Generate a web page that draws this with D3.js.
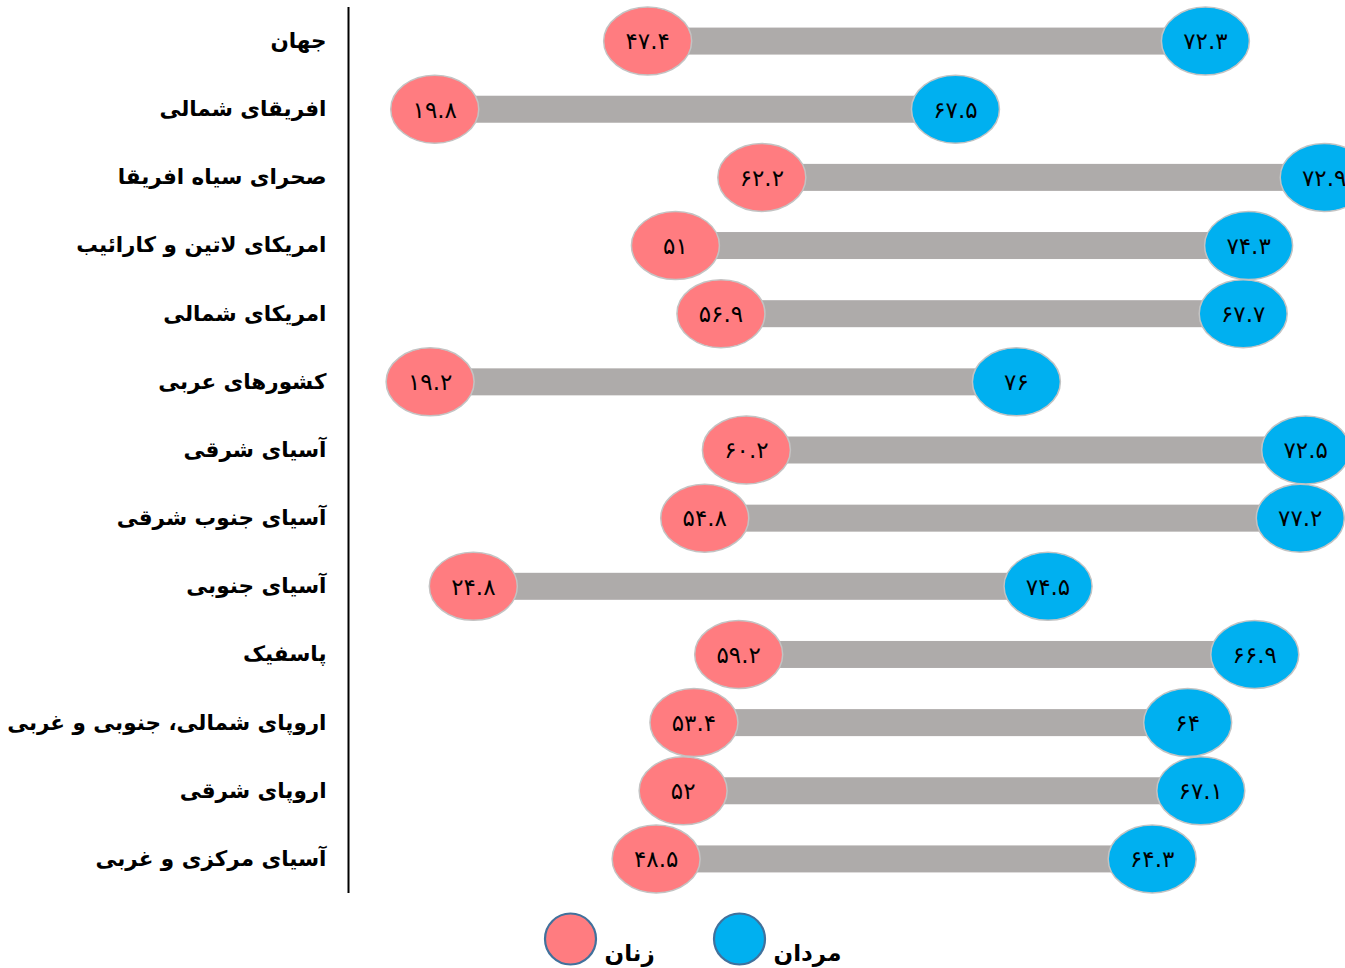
<!DOCTYPE html>
<html lang="fa">
<head>
<meta charset="utf-8">
<script src="https://cdn.jsdelivr.net/npm/d3@7"></script>
<style>
  html, body { margin: 0; padding: 0; background: #ffffff; }
  svg { display: block; }
</style>
</head>
<body>
<svg id="chart" width="1345" height="968"></svg>
<script>
// Regions, top to bottom
const categories = [
  "جهان",
  "افریقای شمالی",
  "صحرای سیاه افریقا",
  "امریکای لاتین و کارائیب",
  "امریکای شمالی",
  "کشورهای عربی",
  "آسیای شرقی",
  "آسیای جنوب شرقی",
  "آسیای جنوبی",
  "پاسفیک",
  "اروپای شمالی، جنوبی و غربی",
  "اروپای شرقی",
  "آسیای مرکزی و غربی"
];

// Women (first segment) and men (second segment), stacked along one axis
const women = [47.4, 19.8, 62.2, 51, 56.9, 19.2, 60.2, 54.8, 24.8, 59.2, 53.4, 52, 48.5];
const men   = [72.3, 67.5, 72.9, 74.3, 67.7, 76, 72.5, 77.2, 74.5, 66.9, 64, 67.1, 64.3];

const seriesNames = ["زنان", "مردان"];

const COLORS = { women: "#FF7C80", men: "#00B0F0", bar: "#AEABAA", ring: "#C3C3C3", legendRing: "#41719C" };

const rows = categories.map((c, i) => ({ name: c, w: women[i], m: men[i] }));

// Western digits -> Persian digits
const faDigits = "۰۱۲۳۴۵۶۷۸۹";
const toFa = v => String(v).replace(/[0-9]/g, d => faDigits[+d]);

const svg = d3.select("#chart");
const W = 1345, H = 968;
svg.append("rect").attr("width", W).attr("height", H).attr("fill", "#fff");

const x = d3.scaleLinear().domain([0, 140]).range([282, 1362]);
const y = d3.scaleBand().domain(categories).range([7, 893]).paddingInner(0);
const cy = d => y(d.name) + y.bandwidth() / 2;

// Category axis on the left
const axisX = 348.5;
const yAxis = d3.axisLeft(y).tickSize(0).tickPadding(22);
const gAxis = svg.append("g").attr("transform", `translate(${axisX},0)`).call(yAxis);
gAxis.select(".domain").attr("stroke", "#000").attr("stroke-width", 2).attr("d", `M0,7V893`);
gAxis.selectAll(".tick text")
  .attr("font-family", "'DejaVu Sans', 'Noto Sans', sans-serif")
  .attr("font-weight", "bold")
  .attr("font-size", 21.5)
  .attr("fill", "#000")
  .attr("text-anchor", "end")
  .attr("dy", "0.32em");

const plot = svg.append("g");

// Connecting bars: from the women marker to the men marker
plot.selectAll("rect.link").data(rows).join("rect")
  .attr("class", "link")
  .attr("x", d => x(d.w))
  .attr("width", d => x(d.w + d.m) - x(d.w))
  .attr("y", d => cy(d) - 13.5)
  .attr("height", 27)
  .attr("fill", COLORS.bar);

const RX = 44, RY = 34;

function markers(cls, pos, val, fill) {
  const g = plot.selectAll(`g.${cls}`).data(rows).join("g")
    .attr("class", cls)
    .attr("transform", d => `translate(${pos(d)},${cy(d)})`);
  g.append("ellipse")
    .attr("rx", RX).attr("ry", RY)
    .attr("fill", fill)
    .attr("stroke", COLORS.ring)
    .attr("stroke-width", 1.5);
  g.append("text")
    .attr("text-anchor", "middle")
    .attr("dy", "0.36em")
    .attr("font-family", "'DejaVu Sans', sans-serif")
    .attr("font-size", 23)
    .attr("fill", "#000")
    .text(d => toFa(val(d)));
}

markers("women", d => x(d.w), d => d.w, COLORS.women);
markers("men", d => x(d.w + d.m), d => d.m, COLORS.men);

// Legend
const legend = svg.append("g");
const legendItems = [
  { name: seriesNames[0], fill: COLORS.women, cx: 570.5 },
  { name: seriesNames[1], fill: COLORS.men, cx: 739.5 }
];
const li = legend.selectAll("g").data(legendItems).join("g")
  .attr("transform", d => `translate(${d.cx},939)`);
li.append("circle")
  .attr("r", 25.5)
  .attr("fill", d => d.fill)
  .attr("stroke", COLORS.legendRing)
  .attr("stroke-width", 2.2);
li.append("text")
  .attr("x", 34)
  .attr("y", 22)
  .attr("text-anchor", "start")
  .attr("font-family", "'DejaVu Sans', sans-serif")
  .attr("font-weight", "bold")
  .attr("font-size", 23)
  .attr("fill", "#000")
  .text(d => d.name);
</script>
</body>
</html>
